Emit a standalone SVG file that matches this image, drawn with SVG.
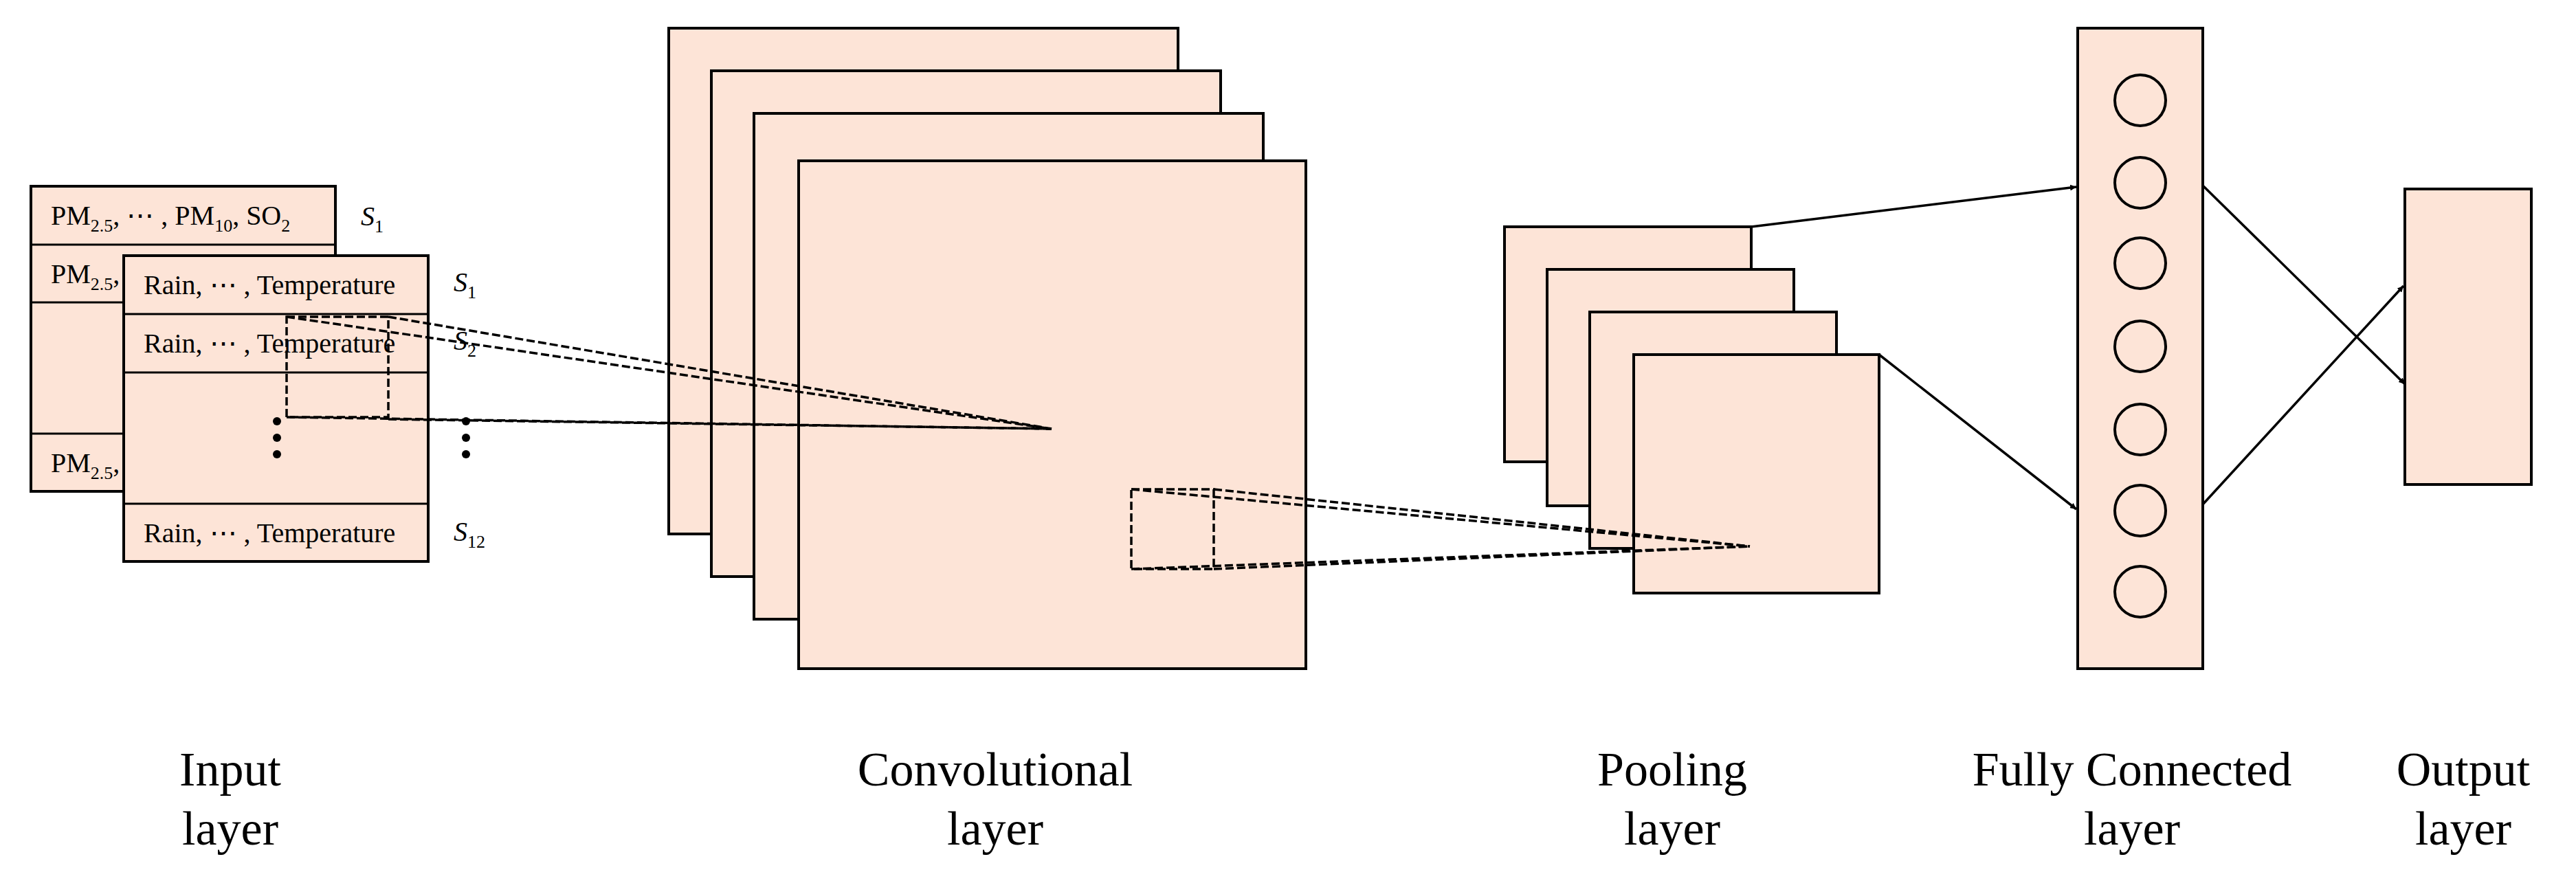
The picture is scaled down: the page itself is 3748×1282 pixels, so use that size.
<svg xmlns="http://www.w3.org/2000/svg" width="3748" height="1282" viewBox="0 0 3748 1282">
<defs>
<style>
.b{fill:#FDE4D7;stroke:#000;stroke-width:4}
.l{stroke:#000;stroke-width:3}
.t{font-family:"Liberation Serif",serif;font-size:40px;fill:#000}
.s{font-family:"Liberation Serif",serif;font-size:40px;font-style:italic;fill:#000}
.lab{font-family:"Liberation Serif",serif;font-size:70px;fill:#000;text-anchor:middle}
.d{fill:none;stroke:#000;stroke-width:3.5;stroke-dasharray:12,5}
.a{stroke:#000;stroke-width:3.5;fill:none;marker-end:url(#ar)}
</style>
<marker id="ar" viewBox="0 0 10 10" refX="10" refY="5" markerWidth="9" markerHeight="9" markerUnits="userSpaceOnUse" orient="auto"><path d="M0,0 L10,5 L0,10 z" fill="#000"/></marker>
</defs>
<rect width="3748" height="1282" fill="#fff"/>
<g id="input-back">
<rect class="b" x="45" y="271" width="443" height="444"/>
<line class="l" x1="45" y1="356" x2="488" y2="356"/>
<line class="l" x1="45" y1="440" x2="488" y2="440"/>
<line class="l" x1="45" y1="631" x2="488" y2="631"/>
<text class="t" x="74" y="327">PM<tspan font-size="26" dy="10">2.5</tspan><tspan dy="-10">, ⋯ , PM</tspan><tspan font-size="26" dy="10">10</tspan><tspan dy="-10">, SO</tspan><tspan font-size="26" dy="10">2</tspan></text>
<text class="t" x="74" y="412">PM<tspan font-size="26" dy="10">2.5</tspan><tspan dy="-10">,</tspan></text>
<text class="t" x="74" y="687">PM<tspan font-size="26" dy="10">2.5</tspan><tspan dy="-10">,</tspan></text>
<text class="s" x="525" y="328">S<tspan font-size="26" font-style="normal" dy="10">1</tspan></text>
</g>
<g id="input-front">
<rect class="b" x="180" y="372" width="443" height="445"/>
<line class="l" x1="180" y1="457" x2="623" y2="457"/>
<line class="l" x1="180" y1="542" x2="623" y2="542"/>
<line class="l" x1="180" y1="733" x2="623" y2="733"/>
<text class="t" x="209" y="428">Rain, ⋯ , Temperature</text>
<text class="t" x="209" y="513">Rain, ⋯ , Temperature</text>
<text class="t" x="209" y="789">Rain, ⋯ , Temperature</text>
<text class="s" x="660" y="424">S<tspan font-size="26" font-style="normal" dy="10">1</tspan></text>
<text class="s" x="660" y="509">S<tspan font-size="26" font-style="normal" dy="10">2</tspan></text>
<text class="s" x="660" y="787">S<tspan font-size="26" font-style="normal" dy="10">12</tspan></text>
<circle cx="403" cy="613" r="6"/><circle cx="403" cy="637" r="6"/><circle cx="403" cy="661" r="6"/>
<circle cx="678" cy="613" r="6"/><circle cx="678" cy="637" r="6"/><circle cx="678" cy="661" r="6"/>
</g>
<g id="conv">
<rect class="b" x="973" y="41" width="741" height="736"/>
<rect class="b" x="1035" y="103" width="741" height="736"/>
<rect class="b" x="1097" y="165" width="741" height="736"/>
<rect class="b" x="1162" y="234" width="738" height="739"/>
</g>
<g id="pool">
<rect class="b" x="2189" y="330" width="359" height="342"/>
<rect class="b" x="2251" y="392" width="359" height="344"/>
<rect class="b" x="2313" y="454" width="359" height="344"/>
<rect class="b" x="2377" y="516" width="357" height="347"/>
</g>
<g id="fc">
<rect class="b" x="3023" y="41" width="182" height="932"/>
<circle class="b" cx="3114" cy="146" r="37"/>
<circle class="b" cx="3114" cy="266" r="37"/>
<circle class="b" cx="3114" cy="383" r="37"/>
<circle class="b" cx="3114" cy="504" r="37"/>
<circle class="b" cx="3114" cy="625" r="37"/>
<circle class="b" cx="3114" cy="743" r="37"/>
<circle class="b" cx="3114" cy="861" r="37"/>
</g>
<g id="output">
<rect class="b" x="3499" y="275" width="184" height="430"/>
</g>
<g id="connectors">
<rect class="d" x="417" y="461" width="148" height="146" stroke-width="3"/>
<line class="d" x1="417" y1="461" x2="1530" y2="624"/>
<line class="d" x1="565" y1="461" x2="1530" y2="624"/>
<line class="d" x1="417" y1="607" x2="1530" y2="624"/>
<line class="d" x1="565" y1="610" x2="1530" y2="624"/>
<rect class="d" x="1646" y="712" width="120" height="116" stroke-width="3"/>
<line class="d" x1="1646" y1="712" x2="2546" y2="795"/>
<line class="d" x1="1766" y1="712" x2="2546" y2="795"/>
<line class="d" x1="1646" y1="828" x2="2546" y2="795"/>
<line class="d" x1="1766" y1="828" x2="2546" y2="795"/>
<line class="a" x1="2548" y1="330" x2="3021" y2="272"/>
<line class="a" x1="2734" y1="516" x2="3021" y2="741"/>
<line class="a" x1="3205" y1="270" x2="3499" y2="559"/>
<line class="a" x1="3205" y1="734" x2="3497" y2="416"/>
</g>
<g id="labels">
<text class="lab" x="335" y="1143">Input</text><text class="lab" x="335" y="1229">layer</text>
<text class="lab" x="1448" y="1143">Convolutional</text><text class="lab" x="1448" y="1229">layer</text>
<text class="lab" x="2433" y="1143">Pooling</text><text class="lab" x="2433" y="1229">layer</text>
<text class="lab" x="3102" y="1143">Fully Connected</text><text class="lab" x="3102" y="1229">layer</text>
<text class="lab" x="3584" y="1143">Output</text><text class="lab" x="3584" y="1229">layer</text>
</g>
</svg>
